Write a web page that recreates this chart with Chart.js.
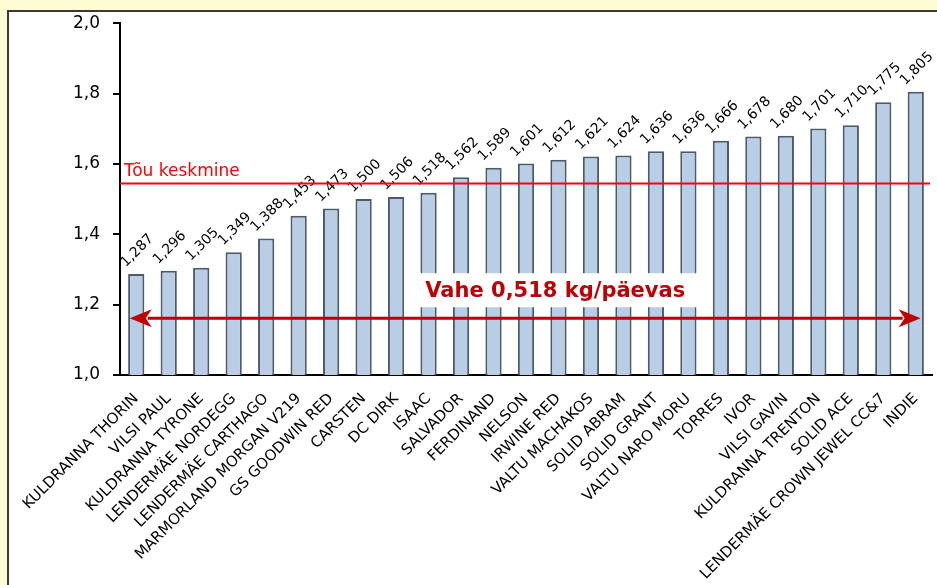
<!DOCTYPE html>
<html>
<head>
<meta charset="utf-8">
<script src="https://cdn.jsdelivr.net/npm/chart.js@4"></script>
<style>
  html, body { margin: 0; padding: 0; }
  body { width: 937px; height: 585px; background: #fefcd2; position: relative; overflow: hidden; }
  #frame { position: absolute; left: 7px; top: 10px; width: 940px; height: 590px; background: #fff; border-left: 2px solid #3a3a3a; border-top: 2px solid #3a3a3a; box-sizing: border-box; }
  #chart { position: absolute; left: 0; top: 0; }
</style>
</head>
<body>
<div id="frame"></div>
<canvas id="chart" width="937" height="585"></canvas>
<script>
const breeds = [
  'KULDRANNA THORIN', 'VILSI PAUL', 'KULDRANNA TYRONE', 'LENDERMÄE NORDEGG',
  'LENDERMÄE CARTHAGO', 'MARMORLAND MORGAN V219', 'GS GOODWIN RED', 'CARSTEN',
  'DC DIRK', 'ISAAC', 'SALVADOR', 'FERDINAND', 'NELSON', 'IRWINE RED',
  'VALTU MACHAKOS', 'SOLID ABRAM', 'SOLID GRANT', 'VALTU NARO MORU', 'TORRES',
  'IVOR', 'VILSI GAVIN', 'KULDRANNA TRENTON', 'SOLID ACE',
  'LENDERMÄE CROWN JEWEL CC&7', 'INDIE'
];
const gain = [
  1.287, 1.296, 1.305, 1.349, 1.388, 1.453, 1.473, 1.500, 1.506, 1.518,
  1.562, 1.589, 1.601, 1.612, 1.621, 1.624, 1.636, 1.636, 1.666, 1.678,
  1.680, 1.701, 1.710, 1.775, 1.805
];
const yTicks = [1.0, 1.2, 1.4, 1.6, 1.8, 2.0];
const breedAverage = 1.545;        // red line "Tõu keskmine"
const averageLabel = 'Tõu keskmine';
const spreadText = 'Vahe 0,518 kg/päevas';
const spreadLevel = 1.161;          // where the double arrow sits
const spreadFrom = -0.2, spreadTo = 24.15; // category index range of the arrow
const spreadBoxAt = { x: 12.9, y: 1.241 };

const fmt = (v, d) => v.toFixed(d).replace('.', ',');
const FONT = '"DejaVu Sans", Verdana, sans-serif';

// draws value labels, the average line, the arrow and the text box
const extras = {
  id: 'extras',
  afterDatasetsDraw(chart) {
    const { ctx, scales: { x, y }, chartArea } = chart;
    const meta = chart.getDatasetMeta(0);

    ctx.save();
    // value labels, rotated
    ctx.fillStyle = '#000';
    ctx.font = '14px ' + FONT;
    ctx.textAlign = 'left';
    ctx.textBaseline = 'middle';
    meta.data.forEach((bar, i) => {
      ctx.save();
      ctx.translate(bar.x - 13, bar.y - 9);
      ctx.rotate(-Math.PI / 4);
      ctx.fillText(fmt(gain[i], 3), 0, 0);
      ctx.restore();
    });

    // average line
    const ay = Math.round(y.getPixelForValue(breedAverage)) + 0.5;
    ctx.strokeStyle = '#ff0000';
    ctx.lineWidth = 2;
    ctx.beginPath();
    ctx.moveTo(chartArea.left, ay);
    ctx.lineTo(chartArea.right - 2, ay);
    ctx.stroke();
    ctx.fillStyle = '#ff0000';
    ctx.font = '17px ' + FONT;
    ctx.textBaseline = 'alphabetic';
    ctx.fillText(averageLabel, chartArea.left + 4, ay - 8);

    // double arrow
    const sy = y.getPixelForValue(spreadLevel);
    const step = x.getPixelForValue(1) - x.getPixelForValue(0);
    const x1 = x.getPixelForValue(0) + spreadFrom * step;
    const x2 = x.getPixelForValue(0) + spreadTo * step;
    const head = 22, half = 9;
    ctx.strokeStyle = '#c00000';
    ctx.fillStyle = '#c00000';
    ctx.lineWidth = 3;
    ctx.beginPath();
    ctx.moveTo(x1 + head - 4, sy);
    ctx.lineTo(x2 - head + 4, sy);
    ctx.stroke();
    ctx.beginPath();
    ctx.moveTo(x1, sy);
    ctx.lineTo(x1 + head, sy - half);
    ctx.lineTo(x1 + head - 6, sy);
    ctx.lineTo(x1 + head, sy + half);
    ctx.closePath();
    ctx.fill();
    ctx.beginPath();
    ctx.moveTo(x2, sy);
    ctx.lineTo(x2 - head, sy - half);
    ctx.lineTo(x2 - head + 6, sy);
    ctx.lineTo(x2 - head, sy + half);
    ctx.closePath();
    ctx.fill();

    // text box
    const bx = x.getPixelForValue(0) + spreadBoxAt.x * step;
    const by = y.getPixelForValue(spreadBoxAt.y);
    ctx.font = 'bold 21px ' + FONT;
    const w = ctx.measureText(spreadText).width + 24;
    ctx.fillStyle = '#fff';
    ctx.fillRect(bx - w / 2, by - 17, w, 34);
    ctx.fillStyle = '#c00000';
    ctx.textAlign = 'center';
    ctx.textBaseline = 'middle';
    ctx.fillText(spreadText, bx, by + 1);
    ctx.restore();
  }
};

new Chart(document.getElementById('chart'), {
  type: 'bar',
  data: {
    labels: breeds,
    datasets: [{
      data: gain,
      backgroundColor: '#b9cde5',
      borderColor: '#4c5b6b',
      borderWidth: 2,
      barPercentage: 0.5,
      categoryPercentage: 1.0
    }]
  },
  options: {
    responsive: false,
    animation: false,
    devicePixelRatio: 1,
    layout: { padding: { left: 0, top: 22, right: 5, bottom: 0 } },
    plugins: { legend: { display: false }, tooltip: { enabled: false } },
    scales: {
      x: {
        grid: { display: false },
        border: { display: true, color: '#000', width: 2 },
        ticks: {
          color: '#000',
          font: { family: FONT, size: 15 },
          minRotation: 45,
          maxRotation: 45,
          autoSkip: false,
          padding: 7
        },
        afterFit(scale) { scale.height = 210; }
      },
      y: {
        min: 1.0,
        max: 2.0,
        grid: { drawOnChartArea: false, drawTicks: true, tickLength: 7, color: '#000', lineWidth: 2 },
        border: { display: true, color: '#000', width: 2 },
        afterBuildTicks(scale) { scale.ticks = yTicks.map(v => ({ value: v })); },
        ticks: {
          color: '#000',
          font: { family: FONT, size: 17 },
          padding: 13,
          callback: v => fmt(v, 1)
        },
        afterFit(scale) { scale.width = 120; }
      }
    }
  },
  plugins: [extras]
});
</script>
</body>
</html>
